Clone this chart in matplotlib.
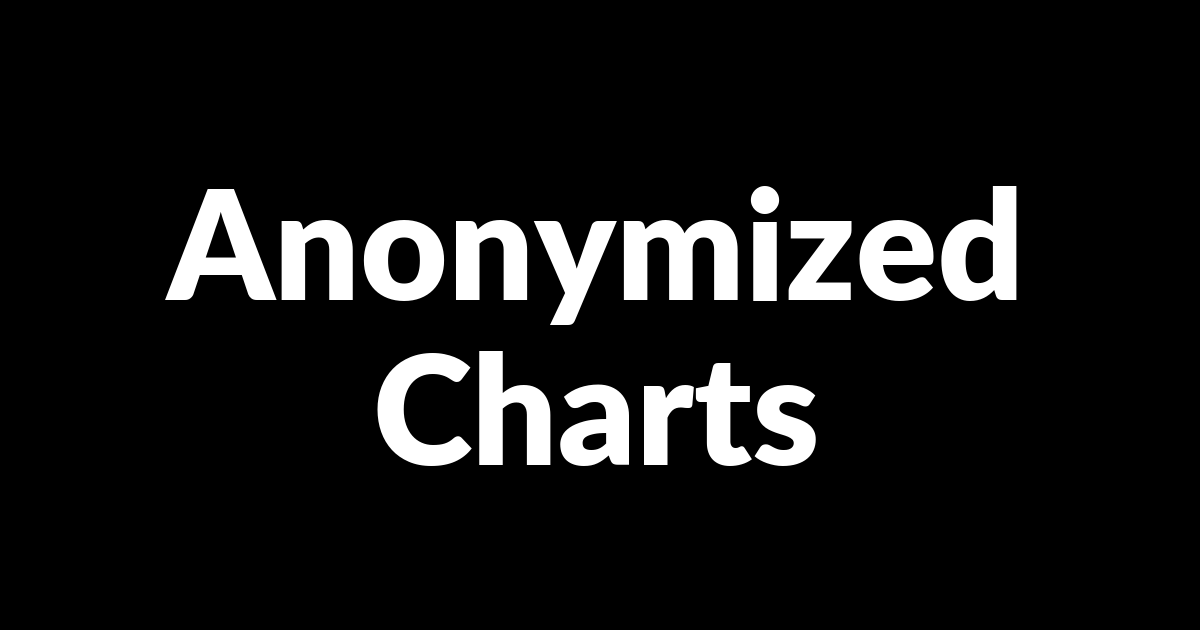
import matplotlib
matplotlib.use('Agg')
import matplotlib.pyplot as plt

# text lines shown on the card
lines = ['Anonymized', 'Charts']
baselines = [0.524, 0.262]   # figure fraction, from bottom

fig = plt.figure(figsize=(12, 6.3), dpi=100)
fig.patch.set_facecolor('black')

for txt, yb in zip(lines, baselines):
  fig.text(0.497, yb, txt, ha='center', va='baseline', color='white',
           fontsize=109, fontweight='heavy', family=['Lato', 'DejaVu Sans'])

fig.savefig('out.png', dpi=100, facecolor='black')
